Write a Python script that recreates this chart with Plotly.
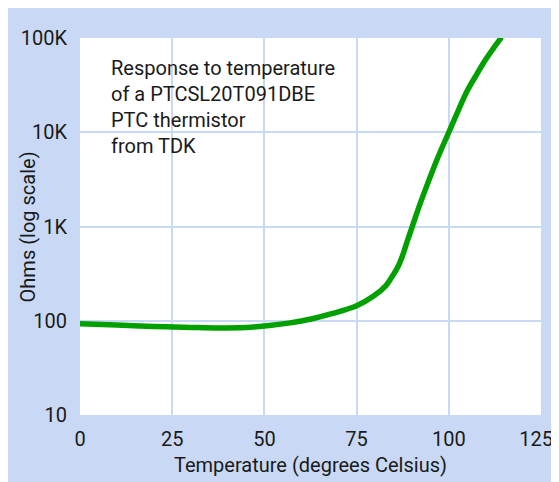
import plotly.graph_objects as go

# temperature (deg C) vs resistance (ohms)
temp_c = [0, 10, 20, 30, 37, 45, 50, 57, 63, 68, 75, 79.7, 82.9, 84.2, 86.1, 87.4, 88.7, 90.1,
          92.3, 94.6, 97, 100, 102.5, 105, 107.5, 110, 112, 114.3]
ohms = [93, 90, 87, 85, 84, 85, 88, 95, 105, 118, 144, 184, 235, 277, 367, 484, 692, 1000,
        1780, 3090, 5370, 10000, 16800, 27500, 40700, 59000, 76700, 102000]

y_tickvals = [10, 100, 1000, 10000, 100000]
y_ticktext = ["10", "100", "1K", "10K", "100K"]
x_tickvals = [0, 25, 50, 75, 100, 125]
# last label nudged inward a little, as in the reference
x_ticktext = ["0", "25", "50", "75", "100", "125\u00a0\u00a0"]

note = "Response to temperature<br>of a PTCSL20T091DBE<br>PTC thermistor<br>from TDK"

BLUE = "#c9d9f5"
INK = "#1a1a1a"
FONT = "Roboto"

fig = go.Figure()
fig.add_trace(go.Scatter(x=temp_c, y=ohms, mode="lines",
                         line=dict(color="#00a000", width=5.5, shape="spline", smoothing=1.0),
                         hoverinfo="skip"))

fig.add_annotation(text=note, xref="paper", yref="paper", x=0.063, y=0.958,
                   xanchor="left", yanchor="top", align="left", showarrow=False,
                   font=dict(family=FONT, size=20, color=INK))
# axis titles placed by hand so they sit where the reference has them
fig.add_annotation(text="Ohms (log scale)", xref="paper", yref="paper", x=-0.113, y=0.5,
                   xanchor="center", yanchor="middle", textangle=-90, showarrow=False,
                   font=dict(family=FONT, size=20, color=INK))
fig.add_annotation(text="Temperature (degrees Celsius)", xref="paper", yref="paper", x=0.5,
                   y=-0.133, xanchor="center", yanchor="middle", showarrow=False,
                   font=dict(family=FONT, size=20, color=INK))

fig.update_layout(
    width=551, height=474,
    margin=dict(l=72, r=18, t=30, b=67),
    paper_bgcolor=BLUE, plot_bgcolor="white",
    showlegend=False,
    font=dict(family=FONT, size=20, color=INK),
)
fig.update_xaxes(range=[0, 125], tickvals=x_tickvals, ticktext=x_ticktext, showgrid=True,
                 gridcolor=BLUE, gridwidth=2, zeroline=False, showline=False, ticks="outside",
                 ticklen=6, tickcolor=BLUE, tickfont=dict(size=20), automargin=False,
                 ticklabeloverflow="allow")
fig.update_yaxes(type="log", range=[1, 5], tickvals=y_tickvals, ticktext=y_ticktext,
                 showgrid=True, gridcolor=BLUE, gridwidth=2, zeroline=False, showline=False,
                 ticks="outside", ticklen=8, tickcolor=BLUE, tickfont=dict(size=20),
                 automargin=False)

fig.write_html("out.html")
